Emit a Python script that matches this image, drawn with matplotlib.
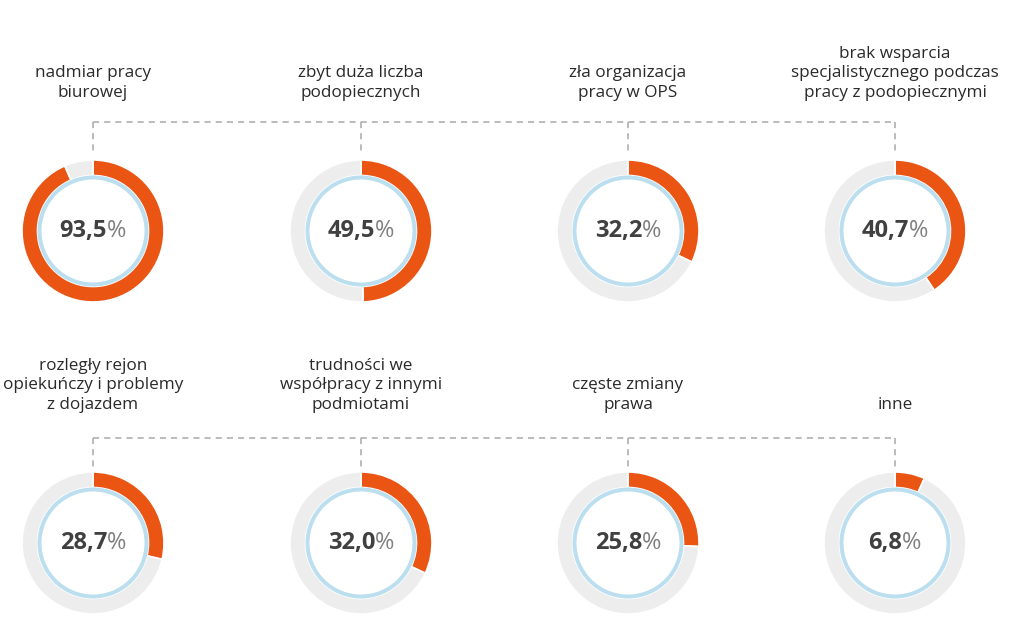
import matplotlib
matplotlib.use("Agg")
import matplotlib.pyplot as plt
from matplotlib.patches import Circle

plt.rcParams['font.family'] = ['Open Sans', 'DejaVu Sans']

categories = [
    "nadmiar pracy\nbiurowej",
    "zbyt duża liczba\npodopiecznych",
    "zła organizacja\npracy w OPS",
    "brak wsparcia\nspecjalistycznego podczas\npracy z podopiecznymi",
    "rozległy rejon\nopiekuńczy i problemy\nz dojazdem",
    "trudności we\nwspółpracy z innymi\npodmiotami",
    "częste zmiany\nprawa",
    "inne",
]
values = [93.5, 49.5, 32.2, 40.7, 28.7, 32.0, 25.8, 6.8]

W, H = 1024, 635
ORANGE = "#EA5514"
GREY = "#EDEDED"
BLUE = "#BCDFEF"
DASH = "#A8A8A8"

fig = plt.figure(figsize=(W / 100, H / 100), dpi=100)
ax = fig.add_axes([0, 0, 1, 1])

col_x = [93, 361, 628, 895]
row_y = [231, 543]        # donut centres (pixels from top)
line_y = [122, 438]       # dashed connector height
label_bottom = [101, 413]
R_OUT = 71
R_IN = 55.5
BLUE_W = 4.0


def Y(py):
    return H - py


num_texts = []
for i, (cat, v) in enumerate(zip(categories, values)):
    r, c = divmod(i, 4)
    cx, cy = col_x[c], Y(row_y[r])
    ax.pie([v, 100 - v], colors=[ORANGE, GREY], startangle=90, counterclock=False,
           center=(cx, cy), radius=R_OUT,
           wedgeprops=dict(width=R_OUT - R_IN, edgecolor="white", linewidth=1.2))
    ax.add_patch(Circle((cx, cy), R_IN - BLUE_W / 2, facecolor="white", edgecolor=BLUE,
                        linewidth=BLUE_W * 0.72, zorder=5))
    ax.text(cx, Y(label_bottom[r]), cat, ha="center", va="bottom", fontsize=12.3,
            color="#2A2A2A", linespacing=1.3)
    s = f"{v:.1f}".replace(".", ",")
    t1 = ax.text(cx, cy, s, ha="left", va="center", fontsize=17, fontweight="bold",
                 color="#404040", zorder=6)
    t2 = ax.text(cx, cy, "%", ha="left", va="center", fontsize=17,
                 color="#808080", zorder=6)
    num_texts.append((cx, cy, t1, t2))

# dashed connectors
for r in range(2):
    ax.plot([col_x[0], col_x[-1]], [Y(line_y[r])] * 2, color=DASH, lw=1.1,
            dashes=(4, 3.3), zorder=1)
    for cx in col_x:
        ax.plot([cx, cx], [Y(line_y[r]), Y(line_y[r] + 30)], color=DASH, lw=1.1,
                dashes=(4, 3.3), zorder=1)

ax.set_xlim(0, W)
ax.set_ylim(0, H)
ax.set_aspect("equal")
ax.axis("off")

fig.canvas.draw()
rend = fig.canvas.get_renderer()
for cx, cy, t1, t2 in num_texts:
    w1 = t1.get_window_extent(rend).width
    w2 = t2.get_window_extent(rend).width
    x0 = cx - (w1 + w2) / 2
    t1.set_x(x0)
    t2.set_x(x0 + w1)

fig.savefig("out.png", dpi=100, facecolor="white")
